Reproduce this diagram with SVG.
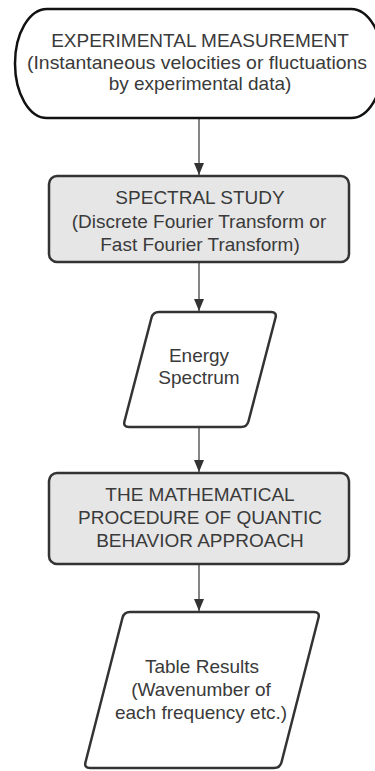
<svg xmlns="http://www.w3.org/2000/svg" width="375" height="771" viewBox="0 0 375 771">
<defs>
<style>
.t{font-family:"Liberation Sans",Arial,sans-serif;font-size:19px;fill:#3a3a3a;text-anchor:middle}
.box{fill:#e6e6e6;stroke:#333;stroke-width:2.5}
.io{fill:#fff;stroke:#333;stroke-width:2.5}
.term{fill:#fff;stroke:#111;stroke-width:2.5}
.con{stroke:#333;stroke-width:1.2;fill:none}
</style>
<marker id="ah" viewBox="0 0 12 10" refX="12" refY="5" markerWidth="12" markerHeight="10" markerUnits="userSpaceOnUse" orient="auto">
<path d="M0,0 L12,5 L0,10 z" fill="#333"/>
</marker>
</defs>
<rect width="375" height="771" fill="#fff"/>
<g id="connectors">
<line class="con" x1="199" y1="119" x2="199" y2="175" marker-end="url(#ah)"/>
<line class="con" x1="199" y1="263" x2="199" y2="311" marker-end="url(#ah)"/>
<line class="con" x1="199" y1="428" x2="199" y2="472" marker-end="url(#ah)"/>
<line class="con" x1="199" y1="565" x2="199" y2="611" marker-end="url(#ah)"/>
</g>
<g id="n1">
<rect class="term" x="15" y="9" width="368" height="109" rx="32" ry="54.5"/>
<text class="t" x="200" y="47">EXPERIMENTAL MEASUREMENT</text>
<text class="t" x="197" y="68.5" textLength="340" lengthAdjust="spacingAndGlyphs">(Instantaneous velocities or fluctuations</text>
<text class="t" x="200" y="90">by experimental data)</text>
</g>
<g id="n2">
<rect class="box" x="49" y="176" width="300" height="86" rx="8"/>
<text class="t" x="200" y="204">SPECTRAL STUDY</text>
<text class="t" x="199" y="227.5">(Discrete Fourier Transform or</text>
<text class="t" x="200" y="251">Fast Fourier Transform)</text>
</g>
<g id="n3">
<path class="io" d="M159,312 L271,312 Q277,312 275.5,317.8 L248.5,421.2 Q247,427 241,427 L129,427 Q123,427 124.5,421.2 L151.5,317.8 Q153,312 159,312 Z"/>
<text class="t" x="199" y="362">Energy</text>
<text class="t" x="199" y="384">Spectrum</text>
</g>
<g id="n4">
<rect class="box" x="49" y="473" width="300" height="91" rx="8"/>
<text class="t" x="200" y="501">THE MATHEMATICAL</text>
<text class="t" x="200" y="524">PROCEDURE OF QUANTIC</text>
<text class="t" x="200" y="547">BEHAVIOR APPROACH</text>
</g>
<g id="n5">
<path class="io" d="M130,612 L314,612 Q320,612 318.5,617.8 L281.5,762.2 Q280,768 274,768 L90,768 Q84,768 85.5,762.2 L122.5,617.8 Q124,612 130,612 Z"/>
<text class="t" x="202" y="673">Table Results</text>
<text class="t" x="201" y="696">(Wavenumber of</text>
<text class="t" x="201" y="719">each frequency etc.)</text>
</g>
</svg>
